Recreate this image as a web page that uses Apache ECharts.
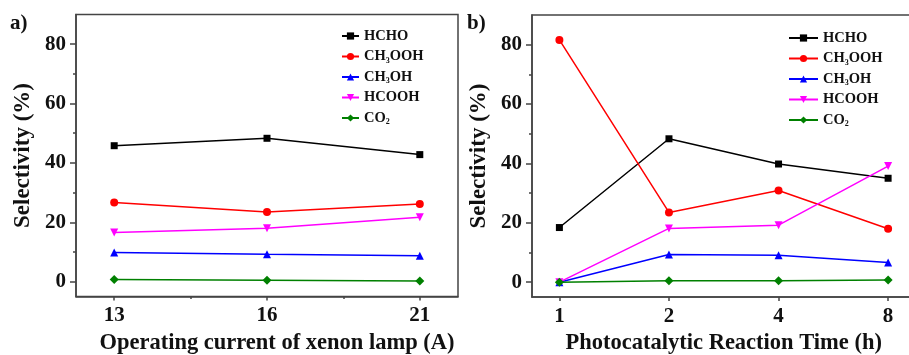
<!DOCTYPE html>
<html>
<head>
<meta charset="utf-8">
<script src="https://cdn.jsdelivr.net/npm/echarts@6/dist/echarts.min.js"></script>
<style>
  html, body { margin: 0; padding: 0; background: #fff; }
  #chart { width: 909px; height: 355px; }
</style>
</head>
<body>
<div id="chart"></div>
<script>
// Panel a): selectivity vs. xenon lamp operating current
const currents = ['13', '16', '21'];
const hchoA   = [45.8, 48.3, 42.8];
const ch3oohA = [26.7, 23.5, 26.2];
const ch3ohA  = [9.8, 9.2, 8.7];
const hcoohA  = [16.6, 18.0, 21.7];
const co2A    = [0.7, 0.5, 0.2];

// Panel b): selectivity vs. photocatalytic reaction time
const times   = ['1', '2', '4', '8'];
const hchoB   = [18.4, 48.3, 39.8, 35.0];
const ch3oohB = [81.6, 23.5, 30.9, 18.0];
const ch3ohB  = [0, 9.3, 9.1, 6.6];
const hcoohB  = [0, 18.1, 19.2, 39.1];
const co2B    = [0, 0.5, 0.5, 0.7];

const yMajor = [0, 20, 40, 60, 80];
const yMinor = [10, 30, 50, 70];

const FONT = "'Liberation Serif', 'Times New Roman', serif";
const AXIS_COLOR = '#444';

const species = [
  { name: 'HCHO',   color: '#000000', symbol: 'rect',     size: 7,      rotate: 0,   a: hchoA,   b: hchoB },
  { name: 'CH3OOH', color: '#ff0000', symbol: 'circle',   size: 8,      rotate: 0,   a: ch3oohA, b: ch3oohB },
  { name: 'CH3OH',  color: '#0000ff', symbol: 'triangle', size: 8,      rotate: 0,   a: ch3ohA,  b: ch3ohB },
  { name: 'HCOOH',  color: '#ff00ff', symbol: 'triangle', size: 8,      rotate: 180, a: hcoohA,  b: hcoohB },
  { name: 'CO2',    color: '#008000', symbol: 'diamond',  size: [9, 9], rotate: 0,   a: co2A,    b: co2B }
];

// chemical formulas with subscript digits
function formula(name) {
  return name.replace(/(\d)/g, '{sub|$1}');
}

const labelStyle = { fontFamily: FONT, fontWeight: 'bold', fontSize: 21, color: '#111' };
const nameStyle  = { fontFamily: FONT, fontWeight: 'bold', fontSize: 22.5, color: '#111' };
const tickLine   = { color: AXIS_COLOR, width: 1.5 };

function xAxisMain(grid, labels, max, title, pad) {
  const ticks = labels.map((_, i) => i + 1);
  return {
    type: 'value', gridIndex: grid, position: 'bottom',
    min: 0.75, max: max,
    splitLine: { show: false },
    axisLine: { show: true, onZero: false, lineStyle: tickLine },
    axisTick: { show: true, customValues: ticks, length: 4, inside: false, lineStyle: tickLine },
    axisLabel: { customValues: ticks, margin: 9, ...labelStyle,
                 formatter: v => labels[Math.round(v) - 1] },
    name: title, nameLocation: 'middle', nameGap: 34,
    nameTextStyle: { ...nameStyle, padding: pad }
  };
}

function yAxisMain(grid) {
  return {
    type: 'value', gridIndex: grid, position: 'left',
    min: -5, max: 90,
    splitLine: { show: false },
    axisLine: { show: true, onZero: false, lineStyle: tickLine },
    axisTick: { show: true, customValues: yMajor, length: 6, inside: false, lineStyle: tickLine },
    axisLabel: { customValues: yMajor, margin: 10, ...labelStyle },
    name: 'Selectivity (%)', nameLocation: 'middle', nameGap: 41,
    nameTextStyle: { ...nameStyle, fontSize: 23 }
  };
}

function yAxisMinor(grid) {
  return {
    type: 'value', gridIndex: grid, position: 'left',
    min: -5, max: 90,
    splitLine: { show: false },
    axisLine: { show: false, onZero: false },
    axisLabel: { show: false },
    axisTick: { show: true, customValues: yMinor, length: 3, inside: false, lineStyle: tickLine }
  };
}

const series = [];
species.forEach(s => {
  const common = {
    type: 'line', name: s.name,
    symbol: s.symbol, symbolSize: s.size, symbolRotate: s.rotate,
    showAllSymbol: true,
    lineStyle: { color: s.color, width: 1.5 },
    itemStyle: { color: s.color },
    emphasis: { disabled: true },
    z: 3
  };
  series.push({ ...common, xAxisIndex: 0, yAxisIndex: 0,
    data: s.a.map((v, i) => [i + 1, v]) });
  series.push({ ...common, xAxisIndex: 1, yAxisIndex: 1,
    data: s.b.map((v, i) => [i + 1, v]) });
});

function legend(left, top, width) {
  return {
    orient: 'vertical', left: left, top: top, padding: 0,
    itemWidth: width, itemHeight: 9, itemGap: 4.5,
    data: species.map(s => s.name),
    formatter: formula,
    selectedMode: false,
    textStyle: {
      fontFamily: FONT, fontWeight: 'bold', fontSize: 14.5, color: '#111', lineHeight: 16,
      rich: {
        sub: { fontFamily: FONT, fontWeight: 'bold', fontSize: 8, lineHeight: 8,
               verticalAlign: 'bottom', color: '#111' }
      }
    }
  };
}

const option = {
  animation: false,
  backgroundColor: '#fff',
  title: [
    { text: 'a)', left: 10, top: 13, padding: 0,
      textStyle: { fontFamily: FONT, fontWeight: 'bold', fontSize: 21, color: '#111' } },
    { text: 'b)', left: 467, top: 13, padding: 0,
      textStyle: { fontFamily: FONT, fontWeight: 'bold', fontSize: 21, color: '#111' } }
  ],
  legend: [legend(341, 28, 17), legend(788, 30, 29)],
  grid: [
    { left: 76, top: 14.5, width: 382, height: 282, show: true, outerBoundsMode: 'none',
      containLabel: false,
      borderColor: AXIS_COLOR, borderWidth: 1.5, backgroundColor: 'transparent' },
    { left: 532, top: 15, width: 383.5, height: 282, show: true, outerBoundsMode: 'none',
      containLabel: false,
      borderColor: AXIS_COLOR, borderWidth: 1.5, backgroundColor: 'transparent' }
  ],
  xAxis: [
    xAxisMain(0, currents, 3.25, 'Operating current of xenon lamp (A)', [0, 0, 0, 20]),
    xAxisMain(1, times, 4.25, 'Photocatalytic Reaction Time (h)', [0, 0, 0, 0]),
    {
      type: 'value', gridIndex: 0, position: 'bottom', min: 0.75, max: 3.25,
      splitLine: { show: false }, axisLine: { show: false, onZero: false }, axisLabel: { show: false },
      axisTick: { show: true, customValues: [1.5, 2.5], length: 2.5, inside: false, lineStyle: tickLine }
    }
  ],
  yAxis: [yAxisMain(0), yAxisMain(1), yAxisMinor(0), yAxisMinor(1)],
  series: series
};

const chart = echarts.init(document.getElementById('chart'), null, { renderer: 'canvas' });
chart.setOption(option);
</script>
</body>
</html>
